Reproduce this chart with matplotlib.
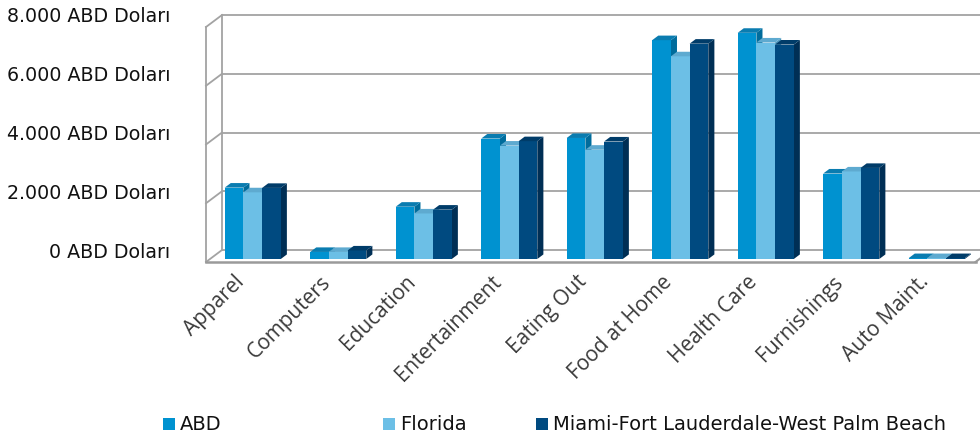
import numpy as np
import matplotlib
matplotlib.use("Agg")
import matplotlib.pyplot as plt
from matplotlib.patches import Polygon, Rectangle

categories = ["Apparel", "Computers", "Education", "Entertainment", "Eating Out",
              "Food at Home", "Health Care", "Furnishings", "Auto Maint."]
abd = [2430, 240, 1780, 4100, 4120, 7450, 7700, 2910, 30]
florida = [2270, 240, 1550, 3860, 3720, 6900, 7370, 2980, 30]
miami = [2420, 290, 1680, 4010, 4000, 7330, 7300, 3100, 30]
series_names = ["ABD", "Florida", "Miami-Fort Lauderdale-West Palm Beach"]
yticks = [0, 2000, 4000, 6000, 8000]
ytick_labels = ["0 ABD Doları", "2.000 ABD Doları", "4.000 ABD Doları",
                "6.000 ABD Doları", "8.000 ABD Doları"]

# front / top / side colours per series
colors = [("#0092d0", "#0a7cb0", "#006c9c"),
          ("#6cbfe6", "#5eaad0", "#4f98bd"),
          ("#004a80", "#003c69", "#002f55")]

fig = plt.figure(figsize=(9.8, 4.37), dpi=100)
# axes = back wall of the 3d box
ax = fig.add_axes([222 / 980, 187 / 437, 769.5 / 980, 235 / 437])
ax.set_xlim(-0.5, 8.5)
ax.set_ylim(0, 8000)
ax.patch.set_visible(False)
for s in ax.spines.values():
    s.set_visible(False)

# depth offset (front plane relative to back wall) in data units
DX = -16 / 85.5
DY = -12 * 8000 / 235
f = 0.75      # depth position of bar fronts
d = 0.38      # bar depth
w = 0.2187    # bar width
G = 3 * w

wall = dict(color="#a3a3a3", lw=1.3, clip_on=False, zorder=1)
ax.hlines(yticks, -0.5, 8.5, **wall)
for v in yticks:
    ax.plot([-0.5, -0.5 + DX], [v, v + DY], **wall)
ax.plot([-0.5, -0.5], [0, 8000], **wall)
ax.plot([-0.5 + DX] * 2, [DY, 8000 + DY], **wall)
ax.plot([-0.5 + DX, 8.5 + DX], [DY, DY], color="#9a9a9a", lw=1.8, clip_on=False, zorder=1)
ax.plot([8.5 + DX, 8.5], [DY, 0], color="#9a9a9a", lw=1.5, clip_on=False, zorder=1)

x = np.arange(len(categories))
base = f * DY
bx, by = -d * DX, -d * DY
for j, vals in enumerate([abd, florida, miami]):
    front, topc, sidec = colors[j]
    x0 = x - G / 2 + j * w + f * DX
    ax.bar(x0, vals, width=w, bottom=base, align="edge", color=front,
           linewidth=0, clip_on=False, zorder=3 + 2 * j)
    for xi, v in zip(x0, vals):
        top = base + v
        ax.add_patch(Polygon([(xi, top), (xi + w, top), (xi + w + bx, top + by), (xi + bx, top + by)],
                             closed=True, facecolor=topc, edgecolor="none", clip_on=False, zorder=3 + 2 * j))
        ax.add_patch(Polygon([(xi + w, base), (xi + w + bx, base + by), (xi + w + bx, top + by), (xi + w, top)],
                             closed=True, facecolor=sidec, edgecolor="none", clip_on=False, zorder=2 + 2 * j))

ax.set_yticks(yticks)
ax.set_yticklabels(ytick_labels, fontsize=13.7, color="#111111", family="DejaVu Sans")
ax.tick_params(axis="y", length=0, pad=37.4)

ax.set_xticks(x + DX - 0.17)
ax.set_xticklabels(categories, rotation=45, ha="right", rotation_mode="anchor",
                   fontsize=15, color="#3a3a3a", family="Open Sans")
ax.tick_params(axis="x", length=0, pad=15.5)

# legend
leg_x = [163, 383, 536]
for name, (front, _, _), lx in zip(series_names, colors, leg_x):
    fig.patches.append(Rectangle((lx / 980, 1 - 430 / 437), 12 / 980, 12 / 437,
                                 transform=fig.transFigure, facecolor=front, edgecolor="none"))
    fig.text((lx + 17) / 980, 1 - 424 / 437, name, fontsize=14, color="#111111",
             family="DejaVu Sans", va="center", ha="left")

fig.savefig("out.png", dpi=100)
